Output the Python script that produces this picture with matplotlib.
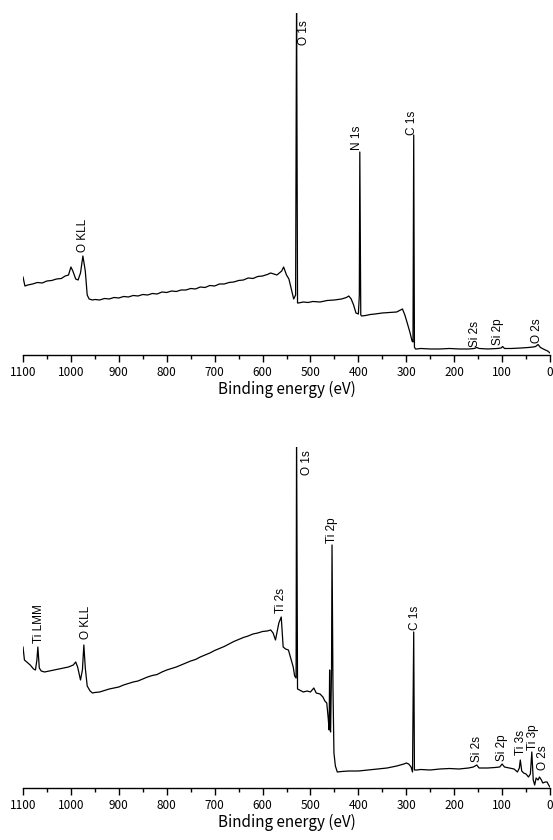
import matplotlib.pyplot as plt
from matplotlib.ticker import MultipleLocator

# top spectrum (binding energy in eV, intensity in arb. units)
energy_a = [1100, 1096, 1090, 1080, 1070, 1060, 1050, 1040, 1030, 1020, 1012, 1005, 1000, 996,
            990, 985, 980, 975, 970, 966, 962, 955, 950, 940, 930, 920, 910, 900, 890, 880,
            870, 860, 850, 840, 830, 820, 810, 800, 790, 780, 770, 760, 750, 740, 730, 720,
            710, 700, 690, 680, 670, 660, 650, 640, 630, 620, 610, 600, 590, 583, 570, 560,
            556, 550, 545, 540, 535, 531, 529, 527, 525, 515, 505, 495, 480, 465, 450, 435,
            425, 420, 415, 410, 405, 400, 398, 397, 395, 393, 385, 375, 365, 350, 335, 320,
            312, 308, 303, 298, 292, 288, 286, 284.5, 283, 281, 278, 270, 250, 230, 210, 190,
            170, 158, 153, 148, 130, 110, 102, 99, 95, 80, 60, 45, 35, 30, 25, 20, 12, 5, 0]
counts_a = [78, 69, 70, 71, 72.5, 72, 74, 74.5, 76, 76.5, 79, 80, 88, 84,
            76, 75, 82, 99, 84, 60, 56, 55, 55.5, 55, 56.5, 56, 57.5, 57, 58.5, 58,
            59.5, 59, 60.5, 60, 61.5, 61, 63, 62.5, 64, 63.5, 65, 65, 66.5, 66, 68, 67.5,
            69.5, 69, 71, 71, 72.5, 73, 74.5, 75, 77, 76.5, 78.5, 79, 80.5, 82, 80, 84,
            88, 80, 76, 66, 56, 60, 360, 52, 52, 53, 52.5, 53.5, 53, 54.5, 55, 56,
            57.5, 59, 56, 50, 42, 41, 60, 203, 40, 39, 39.5, 40.5, 41, 42, 42.5, 43,
            45, 46, 40, 32, 22, 14, 13, 220, 8, 6, 6, 6.5, 6, 6, 6.5, 6,
            6, 6.5, 7.5, 6.5, 6, 6.5, 7, 8.5, 6.5, 6.5, 7, 7.5, 8, 8.5, 10.5, 7.5, 5.5, 4, 2]

# bottom spectrum
energy_b = [1100, 1097, 1090, 1085, 1078, 1074, 1071, 1069, 1066, 1062, 1055, 1045, 1035, 1025,
            1015, 1005, 995, 990, 986, 980, 976, 973, 970, 966, 960, 955, 950, 940, 930, 920,
            910, 900, 890, 880, 870, 860, 850, 840, 830, 820, 810, 800, 790, 780, 770, 760,
            750, 740, 730, 720, 710, 700, 690, 680, 670, 660, 650, 640, 630, 620, 610, 600,
            590, 583, 578, 573, 566, 561, 557, 552, 546, 540, 536, 533, 530, 529, 527, 523,
            515, 507, 500, 493, 488, 480, 474, 470, 466, 463, 461, 460, 459, 458, 456, 455,
            453, 451, 448, 444, 435, 420, 400, 380, 360, 340, 320, 305, 300, 295, 290, 287,
            284.5, 283, 281, 278, 270, 250, 230, 210, 190, 170, 160, 153, 148, 130, 115, 105,
            100, 95, 85, 75, 68, 64, 62, 59, 55, 50, 45, 41, 38, 35, 32, 29, 25, 22,
            18, 15, 10, 6, 3, 0]
counts_b = [141, 128, 125, 123, 119, 118, 128, 141, 120, 117, 116, 117, 118, 119,
            120, 121, 123, 126, 121, 108, 118, 143, 120, 102, 97, 95, 95.5, 96, 97.5, 99,
            100, 101, 103, 104.5, 106, 107, 109, 111, 112.5, 113.5, 116, 118, 119.5, 121, 123, 125,
            127, 128.5, 131, 133, 135, 137.5, 139.5, 141.5, 144, 146.5, 148.5, 150.5, 152, 154, 155, 156.5,
            157, 158, 155, 148, 165, 171, 141, 139, 138, 128, 121, 112, 110, 360, 99, 98,
            96, 97, 96, 100, 95, 94, 91, 87, 85, 70, 58, 118, 60, 56, 120, 243,
            100, 35, 22, 16, 16.5, 17, 17, 18, 19, 20, 22, 24, 25, 24, 21, 16,
            156, 18, 18, 18, 18.5, 18, 19, 19.5, 19, 20, 21, 23, 20, 20, 20.5, 21,
            24, 21, 20, 19, 16, 20, 28, 17, 15, 14, 11, 14, 36, 8, 3, 10, 8, 11,
            8, 5, 6, 6, 3, 1]

labels_a = ["O KLL", "O 1s", "N 1s", "C 1s", "Si 2s", "Si 2p", "O 2s"]
label_x_a = [975, 514, 402, 288, 156, 109, 28]
label_y_a = [103, 310, 205, 220, 8, 10, 12]

labels_b = ["Ti LMM", "O KLL", "Ti 2s", "O 1s", "Ti 2p", "C 1s", "Si 2s", "Si 2p", "Ti 3s", "Ti 3p", "O 2s"]
label_x_b = [1066, 969, 561, 508, 455, 281, 153, 101, 61, 35, 14]
label_y_b = [145, 149, 175, 313, 245, 158, 26, 27, 33, 38, 18]

fig = plt.figure(figsize=(5.53, 8.4), dpi=100)
ax1 = fig.add_axes([0.0416, 0.5774, 0.953, 0.4071])
ax2 = fig.add_axes([0.0416, 0.0619, 0.953, 0.4060])

panels = [(ax1, energy_a, counts_a, labels_a, label_x_a, label_y_a, 342),
          (ax2, energy_b, counts_b, labels_b, label_x_b, label_y_b, 341)]

for ax, x, y, names, lx, ly, top in panels:
    ax.plot(x, y, color="black", linewidth=0.9)
    ax.set_xlim(1100, 0)
    ax.set_ylim(0, top)
    for s in ["left", "right", "top"]:
        ax.spines[s].set_visible(False)
    ax.spines["bottom"].set_linewidth(1.0)
    ax.set_yticks([])
    ax.xaxis.set_major_locator(MultipleLocator(100))
    ax.xaxis.set_minor_locator(MultipleLocator(50))
    ax.tick_params(axis="x", which="major", direction="out", length=5, width=1.0, pad=3)
    ax.tick_params(axis="x", which="minor", direction="out", length=3, width=1.0)
    for lab in ax.get_xticklabels():
        lab.set_fontfamily(["Noto Sans CJK JP", "DejaVu Sans"])
        lab.set_fontsize(8.5)
    ax.set_xlabel("Binding energy (eV)", fontsize=11,
                  family=["Noto Sans CJK JP", "DejaVu Sans"], labelpad=1)
    for name, px, py in zip(names, lx, ly):
        ax.text(px, py, name, rotation=90, ha="center", va="bottom",
                fontsize=8.5, family="Liberation Sans")

fig.savefig("out.png", dpi=100)
